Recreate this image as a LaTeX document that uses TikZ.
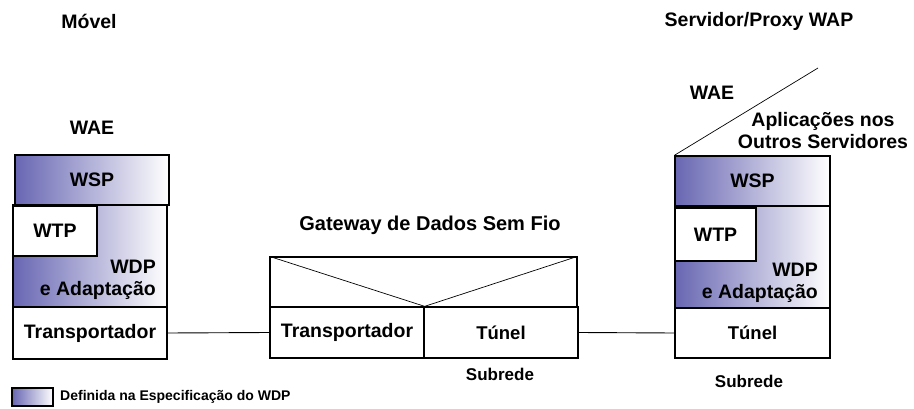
\documentclass[tikz,border=0pt]{standalone}
\usepackage{fontspec}
\setmainfont{Liberation Sans}
\definecolor{wdpdark}{RGB}{104,102,178}
\begin{document}
\begin{tikzpicture}[x=1pt,y=-1pt,
  box/.style={draw=black,line width=1.3pt,inner sep=0pt,font=\fontsize{19.5}{22}\selectfont\bfseries},
  shadebox/.style={box,left color=wdpdark,right color=white},
  lbl/.style={inner sep=0pt,font=\fontsize{19.5}{22}\selectfont\bfseries},
  tun/.style={font=\fontsize{18.5}{21}\selectfont\bfseries},
  small/.style={inner sep=0pt,font=\fontsize{17}{19}\selectfont\bfseries},
  link/.style={line width=0.9pt}]
\useasboundingbox (0,0) rectangle (914,409);
% Mobile stack
\node[lbl] (movel) at (89,21) {Móvel};
\node[lbl] (mwae) at (92,128) {WAE};
\node[shadebox,minimum width=154pt,minimum height=50pt] (mwsp) at (92,180) {WSP};
\node[shadebox,minimum width=154pt,minimum height=102pt] (mwdp) at (90,256) {};
\node[box,fill=white,minimum width=84pt,minimum height=50pt] (mwtp) at (55,231) {WTP};
\node[lbl,align=right,anchor=east] (mwdpt) at (156,280) {WDP\\e Adaptação};
\node[box,fill=white,minimum width=154pt,minimum height=52pt] (mtr) at (90,333) {Transportador};
% Gateway
\node[lbl,font=\fontsize{20}{22}\selectfont\bfseries] (gtitle) at (430,225) {Gateway de Dados Sem Fio};
\node[box,minimum width=307pt,minimum height=50pt] (gtop) at (423.5,282) {};
\node[box,minimum width=154pt,minimum height=51pt] (gtr) at (347,332.5) {Transportador};
\node[box,tun,minimum width=154pt,minimum height=51pt] (gtun) at (501,332.5) {Túnel};
\coordinate (gmid) at (gtr.north east);
\draw[line width=0.7pt] (gtop.north west) -- (gmid) -- (gtop.north east);
\node[small] (gsub) at (500,374) {Subrede};
% Server stack
\node[lbl] (serv) at (759,21) {Servidor/Proxy WAP};
\node[lbl] (swae) at (712,93) {WAE};
\node[lbl,align=center] (apps) at (823,131) {Aplicações nos\\Outros Servidores};
\node[shadebox,minimum width=155pt,minimum height=50pt] (swsp) at (752.5,181) {WSP};
\node[shadebox,minimum width=155pt,minimum height=102pt] (swdp) at (752.5,257) {};
\node[box,fill=white,minimum width=81pt,minimum height=53pt] (swtp) at (715.5,234.5) {WTP};
\node[lbl,align=right,anchor=east] (swdpt) at (818,283) {WDP\\e Adaptação};
\node[box,tun,fill=white,minimum width=155pt,minimum height=50pt] (stun) at (752.5,333) {Túnel};
\node[small] (ssub) at (749,381) {Subrede};
\coordinate (diagend) at (818,68);
\draw[line width=0.7pt] (swsp.north west) -- (diagend);
% Connectors
\draw[link] (mtr.east) -- (gtr.west);
\draw[link] (gtun.east) -- (stun.west);
% Legend
\node[draw=black,line width=1.3pt,left color=wdpdark,right color=white,minimum width=41pt,minimum height=18pt,inner sep=0pt] (legbox) at (32.5,397) {};
\node[inner sep=0pt,anchor=west,font=\fontsize{14}{16}\selectfont\bfseries] (legtxt) at (60,397) {Definida na Especificação do WDP};
\end{tikzpicture}
\end{document}
